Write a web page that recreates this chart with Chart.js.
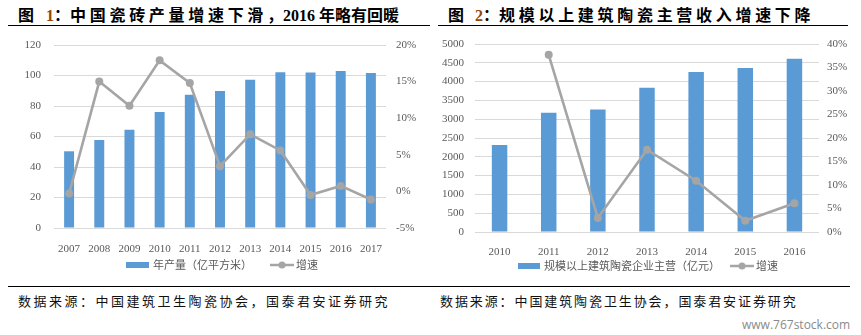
<!DOCTYPE html>
<html><head><meta charset="utf-8">
<script src="https://cdn.jsdelivr.net/npm/chart.js@4"></script>
<style>
body{margin:0;background:#fff;width:861px;height:335px;position:relative;overflow:hidden;font-family:"Noto Sans CJK SC";}
.title{position:absolute;top:4px;font-size:16px;line-height:20px;font-weight:bold;white-space:nowrap;color:#000;}
.title span{display:inline-block;}
.num{font-family:"Liberation Serif";font-weight:bold;}
.sp{letter-spacing:3.7px;}
.rule{position:absolute;border-top:1.6px solid #000;height:0;}
.src{position:absolute;top:292px;font-size:13px;line-height:18px;color:#111;white-space:nowrap;letter-spacing:2.5px;}
.wm{position:absolute;left:742px;top:316px;font-family:"Open Sans";font-size:12px;color:#8a8a8a;white-space:nowrap;}
canvas{position:absolute;top:0;}
</style></head>
<body>
<div class="title" style="left:18px;"><span>图</span><span class="num" style="margin-left:12px;color:#974706;font-size:16px;">1</span><span>：</span><span class="sp">中国瓷砖产量增速下滑</span><span>，</span><span class="num" style="font-size:16px;">2016</span><span style="margin-left:4px;">年略有回暖</span></div>
<div class="title" style="left:448px;"><span>图</span><span class="num" style="margin-left:11px;color:#974706;font-size:16px;">2</span><span>：</span><span class="sp">规模以上建筑陶瓷主营收入增速下降</span></div>
<div class="rule" style="left:8px;width:422px;top:24.5px;"></div>
<div class="rule" style="left:438px;width:410px;top:24.5px;"></div>
<div class="rule" style="left:8px;width:842px;top:286px;"></div>
<div class="src" style="left:18px;">数据来源：中国建筑卫生陶瓷协会，国泰君安证券研究</div>
<div class="src" style="left:440px;letter-spacing:1.9px;">数据来源：中国建筑陶瓷卫生协会，国泰君安证券研究</div>
<div class="wm">www.767stock.com</div>
<canvas id="c1" width="430" height="285" style="left:0;width:430px;height:285px;"></canvas>
<canvas id="c2" width="431" height="285" style="left:430px;width:431px;height:285px;"></canvas>
<script>
// Chart 1 data
const years1 = ['2007','2008','2009','2010','2011','2012','2013','2014','2015','2016','2017'];
const production1 = [50.3, 57.7, 64.5, 76.1, 87.3, 89.9, 97.2, 102.2, 102.0, 102.9, 101.6];
const growth1 = [-0.3, 15.0, 11.7, 17.9, 14.8, 3.45, 7.8, 5.6, -0.5, 0.75, -1.1];
const barLabel1 = '年产量（亿平方米）';
// Chart 2 data
const years2 = ['2010','2011','2012','2013','2014','2015','2016'];
const revenue2 = [2314, 3173, 3261, 3838, 4255, 4362, 4609];
const growth2 = [null, 37.7, 3.0, 17.5, 10.9, 2.4, 6.1];
const barLabel2 = '规模以上建筑陶瓷企业主营（亿元）';
const lineLabel = '增速';

const BAR = '#5b9bd5', LINE = '#a5a5a5', GRID = '#d9d9d9', TXT = '#595959';
const tickFont = {family: 'Liberation Serif', size: 11};

const legendPlugin = {
  id: 'customLegend',
  afterDraw(chart, args, opts) {
    const ctx = chart.ctx;
    ctx.save();
    ctx.font = '11px "Noto Sans CJK SC"';
    ctx.textBaseline = 'middle';
    const y = opts.y;
    opts.items.forEach(it => {
      if (it.type === 'bar') {
        ctx.fillStyle = BAR;
        ctx.fillRect(it.x, y - 3, it.w, 6);
      } else {
        ctx.strokeStyle = LINE; ctx.lineWidth = 2.5;
        ctx.beginPath(); ctx.moveTo(it.x, y); ctx.lineTo(it.x + it.w, y); ctx.stroke();
        ctx.fillStyle = LINE;
        ctx.beginPath(); ctx.arc(it.x + it.w / 2, y, 3.5, 0, Math.PI * 2); ctx.fill();
      }
      ctx.fillStyle = TXT;
      ctx.fillText(it.label, it.tx, y);
    });
    ctx.restore();
  }
};

function build(id, cfg) {
  return new Chart(document.getElementById(id), {
    data: {
      labels: cfg.labels,
      datasets: [
        {type: 'line', label: lineLabel, data: cfg.growth, yAxisID: 'y1', order: 0,
         borderColor: LINE, borderWidth: 2.6, pointRadius: 4, pointBackgroundColor: LINE,
         pointBorderWidth: 0, tension: 0},
        {type: 'bar', label: cfg.barLabel, data: cfg.bars, yAxisID: 'y', order: 1,
         backgroundColor: BAR, categoryPercentage: 1, barPercentage: cfg.barPct}
      ]
    },
    options: {
      responsive: false, animation: false, devicePixelRatio: 1,
      layout: {padding: {top: cfg.top, bottom: cfg.bottom, left: 0, right: 0}},
      plugins: {legend: {display: false}, tooltip: {enabled: false},
        customLegend: {y: cfg.legendY, items: cfg.legendItems}},
      scales: {
        x: {grid: {display: false}, border: {display: false},
            ticks: {font: tickFont, color: TXT, padding: cfg.xPad, maxRotation: 0},
            afterFit: s => { s.height = 32; }},
        y: {position: 'left', min: cfg.yMin, max: cfg.yMax,
            ticks: {stepSize: cfg.yStep, font: tickFont, color: TXT, padding: cfg.yPad,
                    callback: v => String(v)},
            grid: {color: GRID, lineWidth: 1, drawTicks: false}, border: {display: false},
            afterFit: s => { s.width = cfg.leftW; }},
        y1: {position: 'right', min: cfg.y1Min, max: cfg.y1Max,
             ticks: {stepSize: 5, font: tickFont, color: TXT, padding: cfg.y1Pad, callback: v => v + '%'},
             grid: {display: false, drawTicks: false}, border: {display: false},
             afterFit: s => { s.width = cfg.rightW; }}
      }
    },
    plugins: [legendPlugin]
  });
}

build('c1', {
  labels: years1, bars: production1, growth: growth1, barLabel: barLabel1, barPct: 0.33,
  top: 45, bottom: 25, xPad: 7, yMin: 0, yMax: 120, yStep: 20, yPad: 13, leftW: 54,
  y1Min: -5, y1Max: 20, y1Pad: 10, rightW: 44, legendY: 265,
  legendItems: [{type: 'bar', x: 126, w: 23, tx: 153, label: barLabel1},
                {type: 'line', x: 270, w: 24, tx: 296, label: lineLabel}]
});
build('c2', {
  labels: years2, bars: revenue2, growth: growth2, barLabel: barLabel2, barPct: 0.315,
  top: 44, bottom: 21, xPad: 6, yMin: 0, yMax: 5000, yStep: 500, yPad: 11, leftW: 45,
  y1Min: 0, y1Max: 40, y1Pad: 8, rightW: 42, legendY: 266,
  legendItems: [{type: 'bar', x: 88, w: 22, tx: 114, label: barLabel2},
                {type: 'line', x: 300, w: 24, tx: 326, label: lineLabel}]
});
</script>
</body></html>
